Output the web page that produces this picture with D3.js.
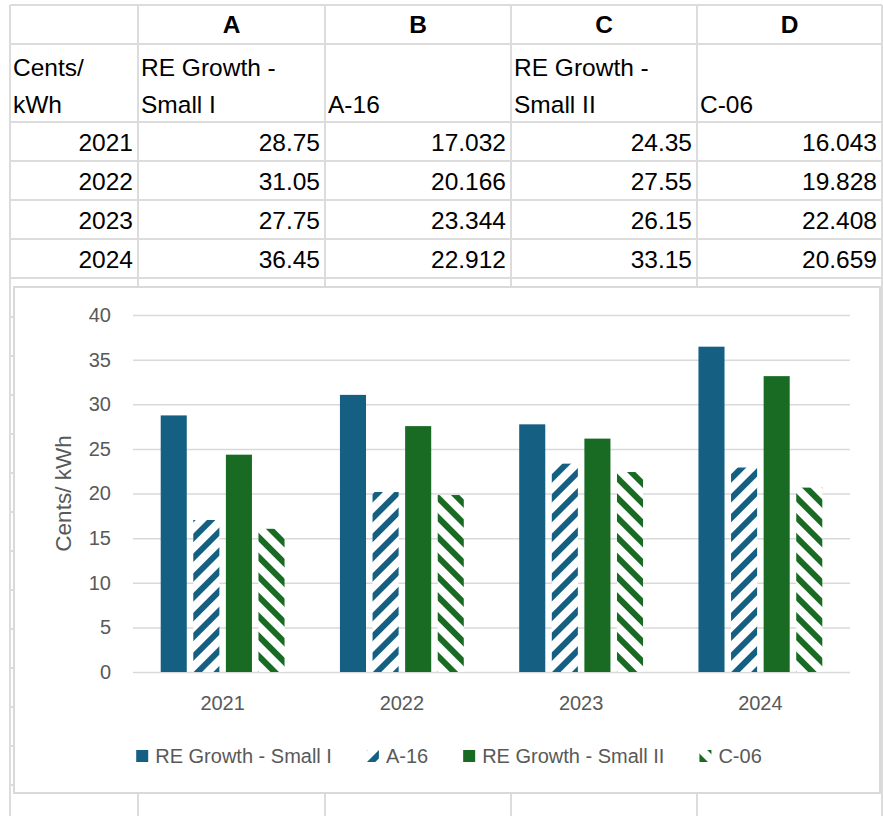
<!DOCTYPE html>
<html>
<head>
<meta charset="utf-8">
<script src="https://cdn.jsdelivr.net/npm/d3@7"></script>
<style>
  html, body { margin: 0; padding: 0; background: #fff; }
  svg { display: block; font-family: "Liberation Sans", Arial, sans-serif; }
</style>
</head>
<body>
<div id="sheet"></div>
<script>
// data read from the sheet
const years = ["2021", "2022", "2023", "2024"];
const seriesNames = ["RE Growth - Small I", "A-16", "RE Growth - Small II", "C-06"];
const colLetters = ["A", "B", "C", "D"];
const reSmallI = [28.75, 31.05, 27.75, 36.45];
const a16 = [17.032, 20.166, 23.344, 22.912];
const reSmallII = [24.35, 27.55, 26.15, 33.15];
const c06 = [16.043, 19.828, 22.408, 20.659];
const yTicks = [0, 5, 10, 15, 20, 25, 30, 35, 40];
const unitLabel = "Cents/ kWh";

const allSeries = [reSmallI, a16, reSmallII, c06];
const blue = "#156082", green = "#196B24";
const styles = [
    {color: blue, hatch: null},
    {color: blue, hatch: "up"},
    {color: green, hatch: null},
    {color: green, hatch: "down"}
];

const W = 883, H = 816;
const svg = d3.select("#sheet").append("svg")
    .attr("width", W)
    .attr("height", H);

const defs = svg.append("defs");
[["hatch-up", blue, 45], ["hatch-down", green, -45]].forEach(([id, c, ang]) => {
    const p = defs.append("pattern")
        .attr("id", id)
        .attr("patternUnits", "userSpaceOnUse")
        .attr("width", 14)
        .attr("height", 14)
        .attr("patternTransform", `rotate(${ang})`);
    p.append("rect").attr("width", 14).attr("height", 14).attr("fill", "#fff");
    p.append("rect").attr("x", 0).attr("width", 6).attr("height", 14).attr("fill", c);
});

function fillFor(i) {
    const s = styles[i];
    if (s.hatch === "up") return "url(#hatch-up)";
    if (s.hatch === "down") return "url(#hatch-down)";
    return s.color;
}

// ---- spreadsheet grid ----
const colX = [10, 138, 325, 511, 697, 882];
const rowY = [5, 44, 122, 161, 200, 239, 278];
const gridColor = "#dcdcdc";
const grid = svg.append("g");

// rows continue below the chart (hidden mostly by the chart box)
const extraRows = d3.range(1, 14).map(i => 278 + i * 39);
rowY.concat(extraRows).forEach(y => {
    grid.append("line")
        .attr("x1", colX[0]).attr("x2", colX[5])
        .attr("y1", y).attr("y2", y)
        .attr("stroke", gridColor).attr("stroke-width", 2);
});
colX.forEach(x => {
    grid.append("line")
        .attr("x1", x).attr("x2", x)
        .attr("y1", rowY[0]).attr("y2", H)
        .attr("stroke", gridColor).attr("stroke-width", 2);
});

const cellFont = 24.5;
const txt = svg.append("g").attr("font-size", cellFont).attr("fill", "#000");

colLetters.forEach((l, i) => {
    txt.append("text")
        .attr("x", (colX[i + 1] + colX[i + 2]) / 2)
        .attr("y", 33)
        .attr("text-anchor", "middle")
        .attr("font-weight", "bold")
        .text(l);
});

// second header row (wrapped text, bottom aligned)
const headerLines = [["Cents/", "kWh"], ["RE Growth -", "Small I"], ["A-16"], ["RE Growth -", "Small II"], ["C-06"]];
headerLines.forEach((lines, i) => {
    lines.forEach((ln, j) => {
        txt.append("text")
            .attr("x", colX[i] + 3)
            .attr("y", 113 - (lines.length - 1 - j) * 37)
            .text(ln);
    });
});

years.forEach((yr, r) => {
    const base = rowY[r + 2] + 29;
    txt.append("text")
        .attr("x", colX[1] - 5).attr("y", base)
        .attr("text-anchor", "end")
        .text(yr);
    allSeries.forEach((s, c) => {
        txt.append("text")
            .attr("x", colX[c + 2] - 5).attr("y", base)
            .attr("text-anchor", "end")
            .text(s[r]);
    });
});

// ---- chart ----
const box = {x: 14, y: 287, w: 866, h: 506};
svg.append("rect")
    .attr("x", box.x).attr("y", box.y)
    .attr("width", box.w).attr("height", box.h)
    .attr("fill", "#fff")
    .attr("stroke", "#d9d9d9")
    .attr("stroke-width", 2);

const plot = {left: 133, right: 850, top: 315, bottom: 672};
const chart = svg.append("g");
const labelColor = "#595959";

const y = d3.scaleLinear()
    .domain([0, 40])
    .range([plot.bottom, plot.top]);

const x0 = d3.scaleBand()
    .domain(years)
    .range([plot.left, plot.right]);

const x1 = d3.scaleBand()
    .domain(d3.range(seriesNames.length))
    .range([0, x0.bandwidth()])
    .paddingInner(0.2)
    .paddingOuter(0.85);

const yAxis = d3.axisLeft(y)
    .tickValues(yTicks)
    .tickSizeInner(-(plot.right - plot.left))
    .tickSizeOuter(0)
    .tickPadding(22);

const yG = chart.append("g")
    .attr("transform", `translate(${plot.left},0)`)
    .call(yAxis);
yG.select(".domain").remove();
yG.selectAll(".tick line").attr("stroke", "#d9d9d9").attr("stroke-width", 1.5);
yG.selectAll(".tick text")
    .attr("fill", labelColor)
    .attr("font-size", 20)
    .attr("font-family", "Liberation Sans, Arial, sans-serif");

// bars
const groups = chart.selectAll(".year")
    .data(years)
    .join("g")
    .attr("class", "year")
    .attr("transform", d => `translate(${x0(d)},0)`);

groups.selectAll("rect")
    .data((d, r) => allSeries.map((s, i) => ({i, v: s[r]})))
    .join("rect")
    .attr("x", d => x1(d.i))
    .attr("y", d => y(d.v))
    .attr("width", x1.bandwidth())
    .attr("height", d => y(0) - y(d.v))
    .attr("fill", d => fillFor(d.i));

// x labels
chart.selectAll(".xlab")
    .data(years)
    .join("text")
    .attr("class", "xlab")
    .attr("x", d => x0(d) + x0.bandwidth() / 2)
    .attr("y", 710)
    .attr("text-anchor", "middle")
    .attr("font-size", 20)
    .attr("fill", labelColor)
    .text(d => d);

// y title
chart.append("text")
    .attr("transform", `translate(71,${(plot.top + plot.bottom) / 2}) rotate(-90)`)
    .attr("text-anchor", "middle")
    .attr("font-size", 22.5)
    .attr("fill", labelColor)
    .text(unitLabel);

// legend
const legend = chart.append("g");
let lx = 0;
seriesNames.forEach((name, i) => {
    const item = legend.append("g").attr("transform", `translate(${lx},0)`);
    item.append("rect")
        .attr("x", 0).attr("y", -12)
        .attr("width", 12).attr("height", 12)
        .attr("fill", fillFor(i));
    const t = item.append("text")
        .attr("x", 19).attr("y", 1)
        .attr("font-size", 20)
        .attr("fill", labelColor)
        .text(name);
    lx += 19 + t.node().getComputedTextLength() + 35;
});
const legendW = lx - 35;
legend.attr("transform", `translate(${449 - legendW / 2},762)`);
</script>
</body>
</html>
